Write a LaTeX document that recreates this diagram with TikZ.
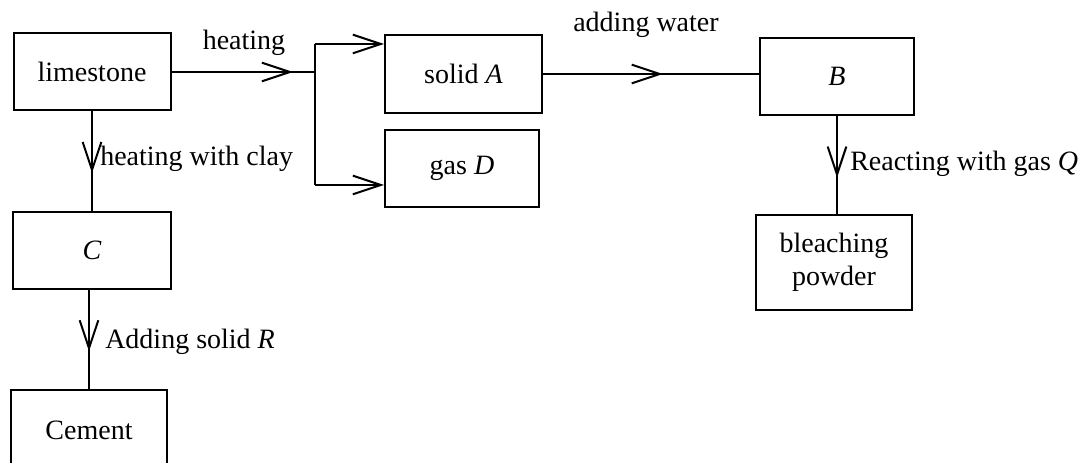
\documentclass[tikz,border=0pt]{standalone}
\usepackage{fontspec}
\setmainfont{Liberation Serif}
\usetikzlibrary{arrows.meta,decorations.markings}
\tikzset{
  flow/.style={line width=1.5pt},
  box/.style={draw, line width=1.5pt, inner sep=0pt, align=center,
    font=\fontsize{21}{25}\selectfont},
  lbl/.style={inner sep=0pt, font=\fontsize{21}{25}\selectfont},
  barb/.tip={Straight Barb[length=21pt,width=14pt]},
  midtip/.style={postaction={decorate},
    decoration={markings, mark=at position #1 with {\arrow{barb}}}},
}
\begin{document}
\begin{tikzpicture}[x=0.75pt,y=-0.75pt]
\useasboundingbox (0,0) rectangle (1090,463);
\clip (0,0) rectangle (1090,463);

% process boxes
\node[box, minimum width=117.75pt, minimum height=57.75pt] (lime)   at (92,72)    {limestone};
\node[box, minimum width=117.75pt, minimum height=58.5pt]  (solidA) at (463.5,74) {solid \textit{A}};
\node[box, minimum width=115.5pt,  minimum height=57.75pt] (gasD)   at (462,168.5) {gas \textit{D}};
\node[box, minimum width=115.5pt,  minimum height=57.75pt] (B)      at (837,76.5) {\textit{B}};
\node[box, minimum width=117pt,    minimum height=71.25pt] (bleach) at (834,262.5) {bleaching\\powder};
\node[box, minimum width=118.5pt,  minimum height=57.75pt] (C)      at (92,250.5) {\textit{C}};
\node[box, minimum width=117pt,    minimum height=60pt]    (cement) at (89,430)   {Cement};

% step labels
\node[lbl, anchor=base]      (heat)   at (244,50)  {heating};
\node[lbl, anchor=base]      (water)  at (646,32)  {adding water};
\node[lbl, anchor=base west] (clay)   at (100,166) {heating with clay};
\node[lbl, anchor=base west] (gasQ)   at (850,171) {Reacting with gas \textit{Q}};
\node[lbl, anchor=base west] (solidR) at (105,349) {Adding solid \textit{R}};

% branching after heating
\coordinate (j)  at (315,72);
\coordinate (ja) at (315,44);
\coordinate (jd) at (315,185);
\draw[flow, midtip=0.847] (lime.east) -- (j);
\draw[flow] (ja) -- (jd);
\draw[flow, -{barb}] (ja) -- (ja -| solidA.west);
\draw[flow, -{barb}] (jd) -- (jd -| gasD.west);

% remaining steps
\draw[flow, midtip=0.555] (solidA.east) -- (solidA.east -| B.west);
\draw[flow, midtip=0.62] (lime.south) -- (lime.south |- C.north);
\draw[flow, midtip=0.62] (cement.north |- C.south) -- (cement.north);
\draw[flow, midtip=0.63] (B.south) -- (B.south |- bleach.north);
\end{tikzpicture}
\end{document}
